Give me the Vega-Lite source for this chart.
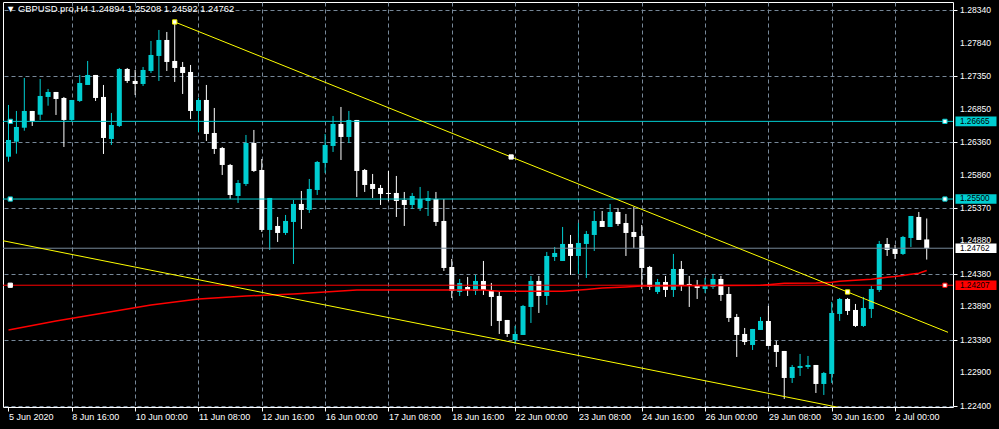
{
"$schema": "https://vega.github.io/schema/vega-lite/v6.json",
"width": 950, "height": 405,
"autosize": {"type": "none"},
"padding": {"left": 3, "top": 2, "right": 46, "bottom": 22},
"background": "#000000",
"config": {"view": {"stroke": "#FFFFFF", "strokeWidth": 1, "fill": "#000000"}, "font": "Liberation Sans", "axis": {"titleOpacity": 0}, "title": {"fontSize": 9.4, "font": "Liberation Sans", "fontWeight": "normal", "color": "#FFFFFF"}},
"title": {"text": "\u25bc  GBPUSD.pro,H4  1.24894 1.25208 1.24592 1.24762", "anchor": "start", "frame": "group", "orient": "top", "offset": -12, "dx": 3, "color": "#FFFFFF", "fontSize": 9.4, "font": "Liberation Sans", "fontWeight": "normal"},
"datasets": {
"candles": [
{"k":0,"o":1.26135,"h":1.26911,"l":1.26060,"c":1.26386},
{"k":1,"o":1.26360,"h":1.26821,"l":1.26180,"c":1.26581},
{"k":2,"o":1.26570,"h":1.27316,"l":1.26525,"c":1.26821},
{"k":3,"o":1.26821,"h":1.26821,"l":1.26596,"c":1.26671},
{"k":4,"o":1.26765,"h":1.27301,"l":1.26686,"c":1.27046},
{"k":5,"o":1.27031,"h":1.27151,"l":1.26900,"c":1.27106},
{"k":6,"o":1.27106,"h":1.27106,"l":1.26761,"c":1.27001},
{"k":7,"o":1.27016,"h":1.27031,"l":1.26281,"c":1.26686},
{"k":8,"o":1.26686,"h":1.26986,"l":1.26671,"c":1.26986},
{"k":9,"o":1.26971,"h":1.27361,"l":1.26956,"c":1.27241},
{"k":10,"o":1.27211,"h":1.27571,"l":1.27211,"c":1.27361},
{"k":11,"o":1.27361,"h":1.27361,"l":1.26971,"c":1.27016},
{"k":12,"o":1.27031,"h":1.27211,"l":1.26176,"c":1.26416},
{"k":13,"o":1.26401,"h":1.26791,"l":1.26311,"c":1.26611},
{"k":14,"o":1.26596,"h":1.27466,"l":1.26581,"c":1.27451},
{"k":15,"o":1.27451,"h":1.27466,"l":1.27241,"c":1.27271},
{"k":16,"o":1.27271,"h":1.27436,"l":1.27061,"c":1.27226},
{"k":17,"o":1.27226,"h":1.27481,"l":1.27196,"c":1.27436},
{"k":18,"o":1.27421,"h":1.27871,"l":1.27391,"c":1.27661},
{"k":19,"o":1.27646,"h":1.28036,"l":1.27271,"c":1.27886},
{"k":20,"o":1.27886,"h":1.28006,"l":1.27421,"c":1.27556},
{"k":21,"o":1.27571,"h":1.28156,"l":1.27256,"c":1.27466},
{"k":22,"o":1.27481,"h":1.27556,"l":1.27076,"c":1.27391},
{"k":23,"o":1.27406,"h":1.27511,"l":1.26701,"c":1.26821},
{"k":24,"o":1.26821,"h":1.27016,"l":1.26506,"c":1.26986},
{"k":25,"o":1.26986,"h":1.27211,"l":1.26371,"c":1.26476},
{"k":26,"o":1.26491,"h":1.26866,"l":1.26176,"c":1.26251},
{"k":27,"o":1.26266,"h":1.26281,"l":1.25861,"c":1.26011},
{"k":28,"o":1.26011,"h":1.26026,"l":1.25501,"c":1.25561},
{"k":29,"o":1.25546,"h":1.25786,"l":1.25441,"c":1.25741},
{"k":30,"o":1.25726,"h":1.26461,"l":1.25696,"c":1.26341},
{"k":31,"o":1.26341,"h":1.26536,"l":1.25906,"c":1.25921},
{"k":32,"o":1.25936,"h":1.26101,"l":1.25006,"c":1.25036},
{"k":33,"o":1.25036,"h":1.25516,"l":1.24736,"c":1.25516},
{"k":34,"o":1.25096,"h":1.25231,"l":1.24856,"c":1.24991},
{"k":35,"o":1.24991,"h":1.25261,"l":1.24961,"c":1.25171},
{"k":36,"o":1.25156,"h":1.25486,"l":1.24526,"c":1.25426},
{"k":37,"o":1.25426,"h":1.25621,"l":1.25051,"c":1.25336},
{"k":38,"o":1.25336,"h":1.25801,"l":1.25291,"c":1.25651},
{"k":39,"o":1.25636,"h":1.26071,"l":1.25561,"c":1.26056},
{"k":40,"o":1.26041,"h":1.26476,"l":1.25891,"c":1.26311},
{"k":41,"o":1.26296,"h":1.26746,"l":1.26206,"c":1.26626},
{"k":42,"o":1.26626,"h":1.26881,"l":1.26086,"c":1.26431},
{"k":43,"o":1.26431,"h":1.26821,"l":1.26341,"c":1.26686},
{"k":44,"o":1.26686,"h":1.26686,"l":1.25531,"c":1.25921},
{"k":45,"o":1.25936,"h":1.25951,"l":1.25606,"c":1.25711},
{"k":46,"o":1.25726,"h":1.25876,"l":1.25516,"c":1.25651},
{"k":47,"o":1.25666,"h":1.25711,"l":1.25411,"c":1.25576},
{"k":48,"o":1.25591,"h":1.25921,"l":1.25471,"c":1.25576},
{"k":49,"o":1.25591,"h":1.25846,"l":1.25231,"c":1.25471},
{"k":50,"o":1.25486,"h":1.25606,"l":1.25096,"c":1.25411},
{"k":51,"o":1.25411,"h":1.25591,"l":1.25351,"c":1.25546},
{"k":52,"o":1.25366,"h":1.25681,"l":1.25321,"c":1.25501},
{"k":53,"o":1.25471,"h":1.25621,"l":1.25246,"c":1.25516},
{"k":54,"o":1.25501,"h":1.25606,"l":1.25096,"c":1.25156},
{"k":55,"o":1.25171,"h":1.25501,"l":1.24421,"c":1.24466},
{"k":56,"o":1.24481,"h":1.24601,"l":1.24016,"c":1.24121},
{"k":57,"o":1.24106,"h":1.24301,"l":1.24046,"c":1.24241},
{"k":58,"o":1.24181,"h":1.24331,"l":1.24046,"c":1.24136},
{"k":59,"o":1.24121,"h":1.24361,"l":1.24061,"c":1.24271},
{"k":60,"o":1.24271,"h":1.24571,"l":1.24061,"c":1.24136},
{"k":61,"o":1.24136,"h":1.24241,"l":1.23596,"c":1.24031},
{"k":62,"o":1.24046,"h":1.24106,"l":1.23476,"c":1.23671},
{"k":63,"o":1.23686,"h":1.23686,"l":1.23431,"c":1.23476},
{"k":64,"o":1.23386,"h":1.23596,"l":1.23326,"c":1.23476},
{"k":65,"o":1.23461,"h":1.23911,"l":1.23461,"c":1.23896},
{"k":66,"o":1.23881,"h":1.24346,"l":1.23641,"c":1.24271},
{"k":67,"o":1.24271,"h":1.24346,"l":1.23791,"c":1.24046},
{"k":68,"o":1.24046,"h":1.24706,"l":1.23911,"c":1.24646},
{"k":69,"o":1.24631,"h":1.24781,"l":1.24571,"c":1.24691},
{"k":70,"o":1.24571,"h":1.25081,"l":1.24571,"c":1.24826},
{"k":71,"o":1.24826,"h":1.24961,"l":1.24361,"c":1.24646},
{"k":72,"o":1.24646,"h":1.25141,"l":1.24376,"c":1.24841},
{"k":73,"o":1.24826,"h":1.25021,"l":1.24316,"c":1.24976},
{"k":74,"o":1.24961,"h":1.25321,"l":1.24721,"c":1.25171},
{"k":75,"o":1.25171,"h":1.25321,"l":1.25081,"c":1.25081},
{"k":76,"o":1.25081,"h":1.25426,"l":1.25081,"c":1.25306},
{"k":77,"o":1.25306,"h":1.25366,"l":1.25096,"c":1.25126},
{"k":78,"o":1.25141,"h":1.25276,"l":1.24646,"c":1.24991},
{"k":79,"o":1.25006,"h":1.25381,"l":1.24766,"c":1.24931},
{"k":80,"o":1.24946,"h":1.25111,"l":1.24151,"c":1.24466},
{"k":81,"o":1.24481,"h":1.24496,"l":1.24136,"c":1.24181},
{"k":82,"o":1.24106,"h":1.24301,"l":1.24076,"c":1.24256},
{"k":83,"o":1.24256,"h":1.24346,"l":1.24031,"c":1.24136},
{"k":84,"o":1.24136,"h":1.24676,"l":1.24031,"c":1.24451},
{"k":85,"o":1.24451,"h":1.24571,"l":1.24121,"c":1.24196},
{"k":86,"o":1.24226,"h":1.24346,"l":1.23881,"c":1.24196},
{"k":87,"o":1.24196,"h":1.24286,"l":1.24001,"c":1.24166},
{"k":88,"o":1.24151,"h":1.24316,"l":1.24091,"c":1.24196},
{"k":89,"o":1.24181,"h":1.24376,"l":1.24151,"c":1.24301},
{"k":90,"o":1.24301,"h":1.24346,"l":1.23971,"c":1.24061},
{"k":91,"o":1.24076,"h":1.24181,"l":1.23656,"c":1.23716},
{"k":92,"o":1.23731,"h":1.23776,"l":1.23131,"c":1.23461},
{"k":93,"o":1.23476,"h":1.23566,"l":1.23311,"c":1.23356},
{"k":94,"o":1.23311,"h":1.23551,"l":1.23236,"c":1.23551},
{"k":95,"o":1.23536,"h":1.23731,"l":1.23536,"c":1.23671},
{"k":96,"o":1.23671,"h":1.23896,"l":1.23296,"c":1.23296},
{"k":97,"o":1.23311,"h":1.23371,"l":1.22981,"c":1.23206},
{"k":98,"o":1.23221,"h":1.23221,"l":1.22501,"c":1.22816},
{"k":99,"o":1.22816,"h":1.23011,"l":1.22741,"c":1.22981},
{"k":100,"o":1.22966,"h":1.23176,"l":1.22846,"c":1.22996},
{"k":101,"o":1.22981,"h":1.23146,"l":1.22951,"c":1.23011},
{"k":102,"o":1.23011,"h":1.23011,"l":1.22591,"c":1.22726},
{"k":103,"o":1.22726,"h":1.22906,"l":1.22561,"c":1.22891},
{"k":104,"o":1.22876,"h":1.23956,"l":1.22741,"c":1.23791},
{"k":105,"o":1.23776,"h":1.24016,"l":1.23671,"c":1.24001},
{"k":106,"o":1.24001,"h":1.24016,"l":1.23761,"c":1.23821},
{"k":107,"o":1.23836,"h":1.23926,"l":1.23581,"c":1.23596},
{"k":108,"o":1.23596,"h":1.24031,"l":1.23581,"c":1.23866},
{"k":109,"o":1.23851,"h":1.24196,"l":1.23716,"c":1.24151},
{"k":110,"o":1.24136,"h":1.24871,"l":1.24106,"c":1.24826},
{"k":111,"o":1.24826,"h":1.24916,"l":1.24646,"c":1.24736},
{"k":112,"o":1.24751,"h":1.24811,"l":1.24601,"c":1.24676},
{"k":113,"o":1.24676,"h":1.24946,"l":1.24661,"c":1.24931},
{"k":114,"o":1.24916,"h":1.25246,"l":1.24781,"c":1.25246},
{"k":115,"o":1.25231,"h":1.25306,"l":1.24886,"c":1.24886},
{"k":116,"o":1.24894,"h":1.25208,"l":1.24592,"c":1.24762}
],
"levels": [
{"price":1.26665,"col":"#00CED1"},
{"price":1.25500,"col":"#00CED1"},
{"price":1.24762,"col":"#778899"},
{"price":1.24207,"col":"#FF0000"}
],
"ma": [
{"k":0,"p":1.23536},{"k":6,"p":1.23671},{"k":12,"p":1.23791},{"k":18,"p":1.23911},
{"k":24,"p":1.24001},{"k":30,"p":1.24046},{"k":36,"p":1.24076},{"k":40,"p":1.24106},
{"k":44,"p":1.24136},{"k":50,"p":1.24136},{"k":56,"p":1.24136},{"k":60,"p":1.24136},
{"k":62,"p":1.24116},{"k":70,"p":1.24116},{"k":73,"p":1.24143},{"k":75,"p":1.24166},
{"k":78,"p":1.24181},{"k":80,"p":1.24196},{"k":90,"p":1.24203},{"k":95,"p":1.24206},
{"k":98,"p":1.24236},{"k":102,"p":1.24241},{"k":104,"p":1.24251},{"k":105,"p":1.24266},
{"k":107,"p":1.24281},{"k":109,"p":1.24296},{"k":110,"p":1.24311},{"k":111,"p":1.24326},
{"k":112,"p":1.24338},{"k":113,"p":1.24353},{"k":114,"p":1.24371},{"k":115,"p":1.24386},
{"k":116,"p":1.24428}
],
"upper": [{"k":21,"p":1.28156},{"k":118.6875,"p":1.23501}],
"lower": [{"k":-1,"p":1.24882},{"k":106,"p":1.22348}],
"markers": [
{"k":0.225,"p":1.26665,"col":"#00CED1"},
{"k":0.225,"p":1.25500,"col":"#00CED1"},
{"k":0.225,"p":1.24207,"col":"#FFFFFF"},
{"k":118.3,"p":1.26665,"col":"#00CED1"},
{"k":118.3,"p":1.25500,"col":"#00CED1"},
{"k":118.3,"p":1.24207,"col":"#FF0000"},
{"k":21,"p":1.28156,"col":"#FFFF00"},
{"k":63.5,"p":1.26131,"col":"#FFFFFF"},
{"k":106,"p":1.24106,"col":"#FFFF00"}
],
"tags": [
{"price":1.26665,"label":"1.26665","bg":"#00CED1"},
{"price":1.25500,"label":"1.25500","bg":"#00CED1"},
{"price":1.24762,"label":"1.24762","bg":"#FFFFFF"},
{"price":1.24207,"label":"1.24207","bg":"#FF0000"}
],
"yticks": [
{"v":1.2834,"t":"1.28340"},{"v":1.2784,"t":"1.27840"},{"v":1.2735,"t":"1.27350"},{"v":1.2685,"t":"1.26850"},
{"v":1.2636,"t":"1.26360"},{"v":1.2586,"t":"1.25860"},{"v":1.2537,"t":"1.25370"},{"v":1.2488,"t":"1.24880"},
{"v":1.2438,"t":"1.24380"},{"v":1.2389,"t":"1.23890"},{"v":1.2339,"t":"1.23390"},{"v":1.229,"t":"1.22900"},
{"v":1.224,"t":"1.22400"}
]
},
"layer": [
{
"data": {"name": "candles"},
"mark": {"type": "rule", "strokeWidth": 1},
"encoding": {
"x": {"field": "k", "type": "quantitative",
 "scale": {"domain": [-0.0625, 118.6875], "nice": false, "zero": false},
 "axis": {"title": null, "values": [0,4,8,12,16,20,24,28,32,36,40,44,48,52,56,60,64,68,72,76,80,84,88,92,96,100,104,108,112,116],
  "labelExpr": "datum.value % 8 == 0 ? ['5 Jun 2020','8 Jun 16:00','10 Jun 00:00','11 Jun 08:00','12 Jun 16:00','16 Jun 00:00','17 Jun 08:00','18 Jun 16:00','22 Jun 00:00','23 Jun 08:00','24 Jun 16:00','26 Jun 00:00','29 Jun 08:00','30 Jun 16:00','2 Jul 00:00'][datum.value / 8] : ''",
  "grid": true, "gridColor": "#778899", "gridDash": [4, 3], "gridWidth": 1,
  "gridOpacity": {"condition": {"test": "datum.value == 0", "value": 0}, "value": 1},
  "domain": false, "ticks": true, "tickColor": "#FFFFFF", "tickSize": 4,
  "tickOpacity": {"condition": {"test": "datum.value % 8 != 0", "value": 0}, "value": 1},
  "labelColor": "#FFFFFF", "labelFontSize": 9, "labelFont": "Liberation Sans", "labelAlign": "left", "labelBaseline": "top",
  "labelPadding": 1, "labelOverlap": false, "labelBound": false, "labelFlush": false}},
"y": {"field": "l", "type": "quantitative",
 "scale": {"domain": [1.223805, 1.284555], "nice": false, "zero": false},
 "axis": {"title": null, "orient": "right", "values": [1.2834,1.2784,1.2735,1.2685,1.2636,1.2586,1.2537,1.2488,1.2438,1.2389,1.2339,1.229,1.224],
  "labels": false, "grid": true, "gridColor": "#778899", "gridDash": [4, 3], "gridWidth": 1,
  "domain": false, "ticks": true, "tickColor": "#FFFFFF", "tickSize": 4}},
"y2": {"field": "h"},
"color": {"condition": {"test": "datum.c > datum.o", "value": "#00CED1"}, "value": "#FFFFFF"}
}
},
{
"data": {"name": "candles"},
"mark": {"type": "bar", "size": 5},
"encoding": {
"x": {"field": "k", "type": "quantitative"},
"y": {"field": "o", "type": "quantitative"},
"y2": {"field": "c"},
"color": {"condition": {"test": "datum.c > datum.o", "value": "#00CED1"}, "value": "#FFFFFF"}
}
},
{
"data": {"name": "levels"},
"mark": {"type": "rule", "strokeWidth": 1},
"encoding": {
"y": {"field": "price", "type": "quantitative"},
"color": {"field": "col", "type": "nominal", "scale": null}
}
},
{
"data": {"name": "ma"},
"mark": {"type": "line", "color": "#FF0000", "strokeWidth": 1.5},
"encoding": {
"x": {"field": "k", "type": "quantitative"},
"y": {"field": "p", "type": "quantitative"}
}
},
{
"data": {"name": "upper"},
"mark": {"type": "line", "color": "#FFFF00", "strokeWidth": 1, "clip": true},
"encoding": {
"x": {"field": "k", "type": "quantitative"},
"y": {"field": "p", "type": "quantitative"}
}
},
{
"data": {"name": "lower"},
"mark": {"type": "line", "color": "#FFFF00", "strokeWidth": 1, "clip": true},
"encoding": {
"x": {"field": "k", "type": "quantitative"},
"y": {"field": "p", "type": "quantitative"}
}
},
{
"data": {"name": "markers"},
"mark": {"type": "point", "shape": "square", "size": 18, "fill": "#FFFFFF", "filled": false, "strokeWidth": 1, "opacity": 1, "fillOpacity": 1, "strokeOpacity": 1},
"encoding": {
"x": {"field": "k", "type": "quantitative"},
"y": {"field": "p", "type": "quantitative"},
"stroke": {"field": "col", "type": "nominal", "scale": null}
}
},
{
"data": {"name": "yticks"},
"mark": {"type": "text", "align": "left", "baseline": "middle", "xOffset": 7, "fontSize": 8.6, "font": "Liberation Sans", "color": "#FFFFFF"},
"encoding": {
"x": {"value": "width"},
"y": {"field": "v", "type": "quantitative"},
"text": {"field": "t", "type": "nominal"}
}
},
{
"data": {"name": "tags"},
"mark": {"type": "point", "shape": "M-1,-0.234L1,-0.234L1,0.234L-1,0.234Z", "size": 1681, "filled": true, "opacity": 1, "strokeWidth": 0, "xOffset": 23},
"encoding": {
"x": {"value": "width"},
"y": {"field": "price", "type": "quantitative"},
"color": {"field": "bg", "type": "nominal", "scale": null}
}
},
{
"data": {"name": "tags"},
"mark": {"type": "text", "align": "left", "baseline": "middle", "xOffset": 7, "yOffset": 0.3, "fontSize": 8.2, "font": "Liberation Sans", "color": "#000000"},
"encoding": {
"x": {"value": "width"},
"y": {"field": "price", "type": "quantitative"},
"text": {"field": "label", "type": "nominal"}
}
}
]
}
